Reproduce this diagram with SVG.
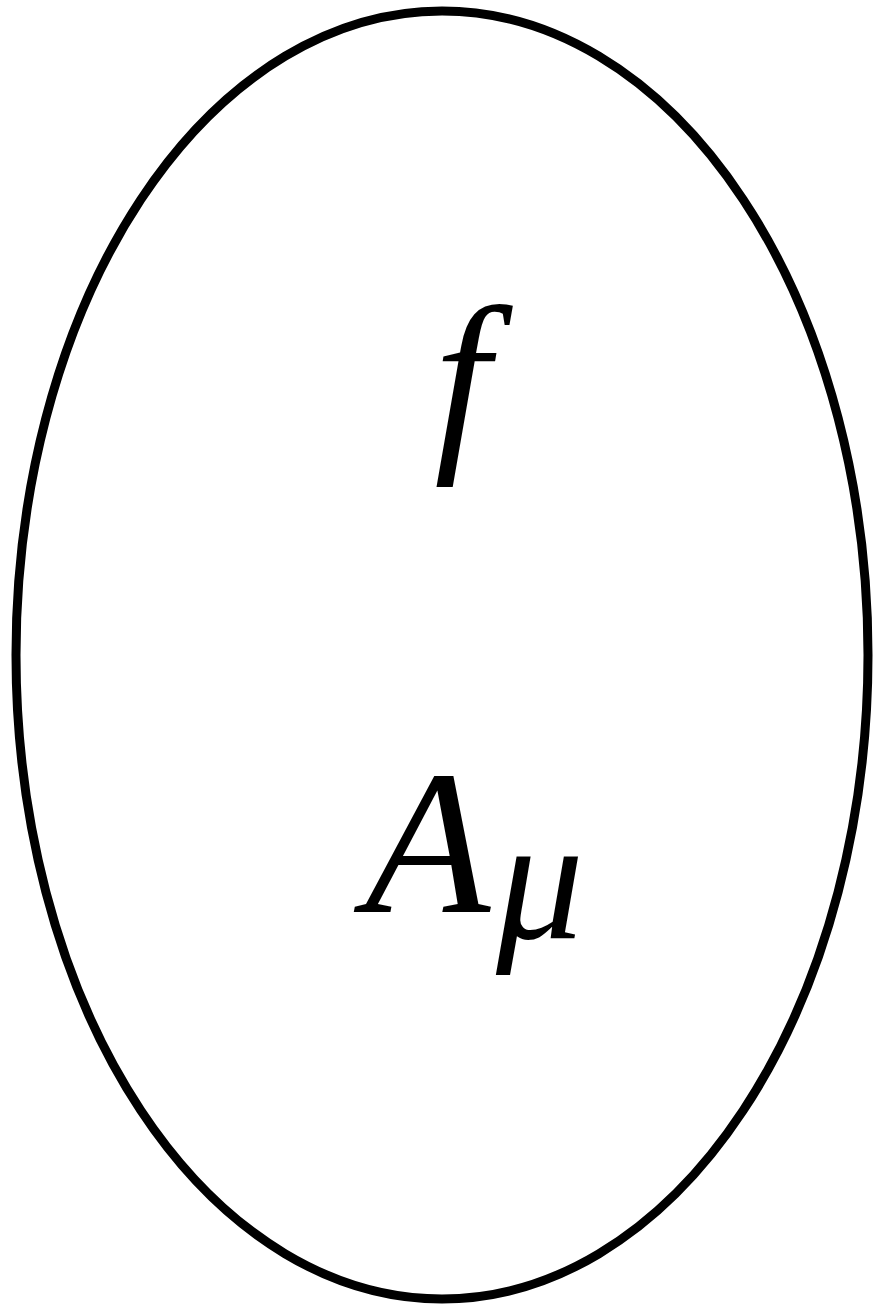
<svg xmlns="http://www.w3.org/2000/svg" width="873" height="1305" viewBox="0 0 873 1305">
<style>
.m{font-family:"Liberation Serif","DejaVu Serif",serif;font-style:italic;fill:#000}
</style>
<rect width="873" height="1305" fill="#fff"/>
<g id="node">
<ellipse cx="442" cy="655" rx="426" ry="644" fill="#fff" stroke="#000" stroke-width="9"/>
<text class="m" x="462" y="445" font-size="200" text-anchor="middle">f</text>
<text class="m" x="365" y="912" font-size="205">A</text>
<text class="m" x="496" y="938" font-size="175">μ</text>
</g>
<g id="connectors"/>
</svg>
